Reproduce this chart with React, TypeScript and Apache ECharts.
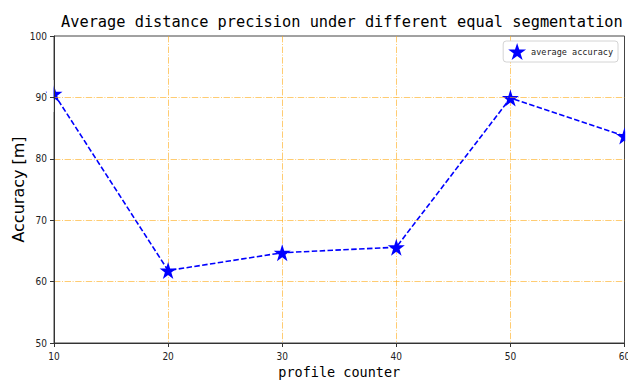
import React, { useEffect, useRef } from "react";
import * as echarts from "echarts";

const profileCounts = [10, 20, 30, 40, 50, 60];
const accuracyValues = [90.6, 61.8, 64.7, 65.6, 89.9, 83.7];
const seriesName = "average accuracy";
const titleText = "Average distance precision under different equal segmentation";
const xAxisName = "profile counter";
const yAxisName = "Accuracy [m]";

const STAR =
  "path://M100 0 L122.45 69.1 L195.1 69.1 L136.33 111.8 L158.8 180.9 L100 138.2 L41.2 180.9 L63.67 111.8 L4.9 69.1 L77.55 69.1 Z";

export default function App() {
  const ref = useRef<HTMLDivElement>(null);
  useEffect(() => {
    document.body.style.margin = "0";
    if (!ref.current) return;
    const chart = echarts.init(ref.current, null, { renderer: "svg" });
    const gridStyle = {
      show: true,
      showMinLine: false,
      showMaxLine: false,
      lineStyle: { color: "rgba(255,170,20,0.6)", width: 1, type: [6.4, 1.6, 1, 1.6] },
    };
    const tickFont = { fontFamily: "'Liberation Sans Narrow', 'DejaVu Sans Condensed', sans-serif", fontSize: 10, color: "#222" };
    chart.setOption({
      animation: false,
      backgroundColor: "#fff",
      title: {
        text: titleText,
        left: 56,
        top: 9,
        textStyle: { fontFamily: "'DejaVu Sans Mono', monospace", fontSize: 15.3, fontWeight: "normal", color: "#000" },
      },
      legend: {
        right: 10,
        top: 41,
        padding: [2, 5, 2, 5],
        itemWidth: 18,
        itemHeight: 17,
        borderColor: "#d4d4d4",
        borderWidth: 1,
        borderRadius: 3,
        backgroundColor: "#fff",
        icon: STAR,
        textStyle: { fontFamily: "'DejaVu Sans Mono', monospace", fontSize: 8.5, color: "#222" },
        data: [seriesName],
      },
      grid: {
        left: 54,
        right: 3.5,
        top: 36,
        bottom: 39,
        containLabel: false,
        outerBoundsMode: "none",
        show: true,
        borderColor: "#444",
        borderWidth: 1,
      },
      xAxis: {
        type: "value",
        min: 10,
        max: 60,
        interval: 10,
        name: xAxisName,
        nameLocation: "middle",
        nameGap: 22,
        nameMoveOverlap: false,
        nameTextStyle: { fontFamily: "'DejaVu Sans Mono', monospace", fontSize: 13.5, color: "#000" },
        axisLine: { show: true, lineStyle: { color: "#333", width: 1 } },
        axisTick: { show: true, length: 4, inside: false, lineStyle: { color: "#333" } },
        axisLabel: { ...tickFont, margin: 8 },
        splitLine: gridStyle,
      },
      yAxis: {
        type: "value",
        min: 50,
        max: 100,
        interval: 10,
        z: 5,
        name: yAxisName,
        nameLocation: "middle",
        nameGap: 28,
        nameMoveOverlap: false,
        nameTextStyle: { fontFamily: "'DejaVu Sans', sans-serif", fontSize: 16, color: "#000" },
        axisLine: { show: true, lineStyle: { color: "#333", width: 1 } },
        axisTick: { show: true, length: 4, inside: false, lineStyle: { color: "#333" } },
        axisLabel: { ...tickFont, margin: 7 },
        splitLine: gridStyle,
      },
      graphic: [
        { type: "rect", z: 4, shape: { x: 47, y: 80, width: 6.5, height: 32 }, style: { fill: "#fff" } },
        { type: "rect", z: 4, shape: { x: 625.2, y: 115, width: 4, height: 40 }, style: { fill: "#fff" } },
      ],
      series: [
        {
          name: seriesName,
          type: "line",
          data: profileCounts.map((x, i) => [x, accuracyValues[i]]),
          symbol: STAR,
          symbolSize: 17,
          clip: false,
          itemStyle: { color: "#0000ff" },
          lineStyle: { color: "#0000ff", width: 1.6, type: [5.5, 2.4] },
        },
      ],
    });
    return () => chart.dispose();
  }, []);
  return <div ref={ref} style={{ width: 628, height: 382 }} />;
}
